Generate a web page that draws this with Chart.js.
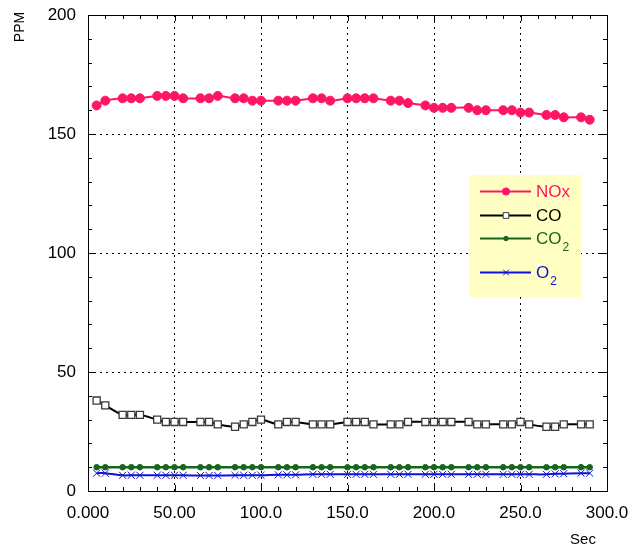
<!DOCTYPE html>
<html>
<head>
<meta charset="utf-8">
<title>PPM vs Sec</title>
<script src="https://cdn.jsdelivr.net/npm/chart.js@4/dist/chart.umd.min.js"></script>
<style>
    html, body { margin: 0; padding: 0; background: #fff; }
    #wrap { position: relative; width: 641px; height: 546px; }
</style>
</head>
<body>
<div id="wrap"><canvas id="chart" width="641" height="546"></canvas></div>
<script>
// Sample times (Sec)
const times = [5, 10, 20, 25, 30, 40, 45, 50, 55, 65, 70, 75, 85, 90, 95, 100, 110, 115, 120,
    130, 135, 140, 150, 155, 160, 165, 175, 180, 185, 195, 200, 205, 210, 220, 225, 230,
    240, 245, 250, 255, 265, 270, 275, 285, 290];

// Series values (PPM)
const noxValues = [162, 164, 165, 165, 165, 166, 166, 166, 165, 165, 165, 166, 165, 165, 164, 164, 164, 164, 164,
    165, 165, 164, 165, 165, 165, 165, 164, 164, 163, 162, 161, 161, 161, 161, 160, 160,
    160, 160, 159, 159, 158, 158, 157, 157, 156];
const coValues = [38, 36, 32, 32, 32, 30, 29, 29, 29, 29, 29, 28, 27, 28, 29, 30, 28, 29, 29,
    28, 28, 28, 29, 29, 29, 28, 28, 28, 29, 29, 29, 29, 29, 29, 28, 28,
    28, 28, 29, 28, 27, 27, 28, 28, 28];
const co2Values = [10, 10, 10, 10, 10, 10, 10, 10, 10, 10, 10, 10, 10, 10, 10, 10, 10, 10, 10,
    10, 10, 10, 10, 10, 10, 10, 10, 10, 10, 10, 10, 10, 10, 10, 10, 10,
    10, 10, 10, 10, 10, 10, 10, 10, 10];
const o2Values = [7.5, 7.5, 6.6, 6.6, 6.6, 6.6, 6.6, 6.6, 6.6, 6.5, 6.5, 6.5, 6.6, 6.6, 6.6, 6.6, 6.8, 6.8, 6.8,
    7, 7, 7, 7, 7, 7, 7, 7, 7, 7, 7, 7, 7, 7, 7, 7, 7,
    7, 7, 7, 7, 7, 7.2, 7.3, 7.5, 7.5];

// Legend labels: [main text, subscript]
const seriesLabels = [['NOx', ''], ['CO', ''], ['CO', '2'], ['O', '2']];

// Axis ticks
const xTicks = [0, 50, 100, 150, 200, 250, 300];
const yTicks = [0, 50, 100, 150, 200];

const FONT = '"Liberation Sans", Arial, sans-serif';

function series(values) {
    return times.map(function (t, i) { return { x: t, y: values[i] }; });
}

function makeDataset(idx, values, color, style) {
    return Object.assign({
        label: seriesLabels[idx].join(''),
        data: series(values),
        borderColor: color,
        backgroundColor: color,
        pointBorderColor: color,
        borderWidth: 2,
        tension: 0.35,
        pointBorderWidth: 1,
        pointHoverRadius: 0
    }, style);
}

// Frame, minor ticks, axis titles, legend
const decorPlugin = {
    id: 'decor',
    afterDraw: function (chart) {
        const ctx = chart.ctx;
        const a = chart.chartArea;
        const xs = chart.scales.x;
        const ys = chart.scales.y;
        ctx.save();

        // frame
        ctx.strokeStyle = '#000';
        ctx.lineWidth = 1;
        ctx.strokeRect(Math.round(a.left) + 0.5, Math.round(a.top) + 0.5,
            Math.round(a.right - a.left), Math.round(a.bottom - a.top));

        // x ticks (top + bottom)
        ctx.beginPath();
        for (let v = 0; v <= 300; v += 10) {
            const px = Math.round(xs.getPixelForValue(v)) + 0.5;
            const len = v % 50 === 0 ? 6 : 4;
            ctx.moveTo(px, a.bottom); ctx.lineTo(px, a.bottom - len);
            ctx.moveTo(px, a.top); ctx.lineTo(px, a.top + len);
        }
        // y ticks (left + right)
        for (let v = 0; v <= 200; v += 10) {
            const py = Math.round(ys.getPixelForValue(v)) + 0.5;
            const len = v % 50 === 0 ? 7 : 4;
            ctx.moveTo(a.left, py); ctx.lineTo(a.left + len, py);
            ctx.moveTo(a.right, py); ctx.lineTo(a.right - len, py);
        }
        ctx.stroke();

        // axis titles
        ctx.fillStyle = '#000';
        ctx.font = '15px ' + FONT;
        ctx.textAlign = 'center';
        ctx.textBaseline = 'middle';
        ctx.fillText('Sec', 583, 540);
        ctx.save();
        ctx.translate(20, 27);
        ctx.rotate(-Math.PI / 2);
        ctx.font = '14px ' + FONT;
        ctx.fillText('PPM', 0, 0);
        ctx.restore();

        // legend box
        const bx = 469, by = 175;
        ctx.fillStyle = '#ffffc4';
        ctx.fillRect(bx, by, 112, 122);
        let rowY = by + 16;
        chart.data.datasets.forEach(function (ds, i) {
            const y = Math.round(rowY) + 0.5;
            ctx.strokeStyle = ds.borderColor;
            ctx.lineWidth = 2;
            ctx.beginPath();
            ctx.moveTo(bx + 11, y);
            ctx.lineTo(bx + 62, y);
            ctx.stroke();
            ctx.fillStyle = ds.pointBackgroundColor || ds.backgroundColor;
            ctx.strokeStyle = ds.pointBorderColor;
            ctx.lineWidth = 1;
            Chart.helpers.drawPoint(ctx, {
                pointStyle: ds.pointStyle,
                radius: ds.pointRadius * 0.8,
                rotation: 0,
                borderWidth: 1
            }, bx + 37, y);

            ctx.fillStyle = ds.borderColor;
            ctx.font = '17px ' + FONT;
            ctx.textAlign = 'left';
            ctx.textBaseline = 'middle';
            const lbl = seriesLabels[i];
            ctx.fillText(lbl[0], bx + 67, y + 1);
            if (lbl[1]) {
                const w = ctx.measureText(lbl[0]).width;
                ctx.font = '12px ' + FONT;
                ctx.fillText(lbl[1], bx + 67 + w + 1, y + 9);
                rowY += 10;
            }
            rowY += 23.5;
        });

        ctx.restore();
    }
};

const gridStyle = {
    color: '#000',
    lineWidth: 1,
    drawTicks: false
};

new Chart(document.getElementById('chart'), {
    type: 'line',
    data: {
        datasets: [
            makeDataset(0, noxValues, '#ff1565', { pointStyle: 'circle', pointRadius: 4.5 }),
            makeDataset(1, coValues, '#000000', { pointStyle: 'rect', pointRadius: 5, pointBackgroundColor: '#fff', pointBorderColor: '#3a3a3a', pointBorderWidth: 1.3 }),
            makeDataset(2, co2Values, '#17661d', { pointStyle: 'circle', pointRadius: 2.8, borderWidth: 2.5 }),
            makeDataset(3, o2Values, '#1010d8', { pointStyle: 'crossRot', pointRadius: 5, pointBackgroundColor: '#1010d8' })
        ]
    },
    options: {
        responsive: false,
        animation: false,
        layout: { padding: { left: 0, top: 0, right: 34, bottom: 0 } },
        plugins: {
            legend: { display: false },
            tooltip: { enabled: false }
        },
        scales: {
            x: {
                type: 'linear',
                min: 0,
                max: 300,
                afterBuildTicks: function (scale) {
                    scale.ticks = xTicks.map(function (v) { return { value: v }; });
                },
                afterFit: function (scale) { scale.height = 55; },
                ticks: {
                    color: '#000',
                    padding: 12,
                    maxRotation: 0,
                    font: { family: FONT, size: 17 },
                    callback: function (v) { return Number(v).toPrecision(4); }
                },
                grid: Object.assign({ tickBorderDash: [], borderDash: [2, 4] }, gridStyle),
                border: { display: false, dash: [2, 4] }
            },
            y: {
                min: 0,
                max: 200,
                afterBuildTicks: function (scale) {
                    scale.ticks = yTicks.map(function (v) { return { value: v }; });
                },
                afterFit: function (scale) {
                    scale.width = 88;
                    scale.paddingTop = 15;
                    scale.paddingBottom = 0;
                },
                ticks: {
                    color: '#000',
                    padding: 12,
                    font: { family: FONT, size: 17 }
                },
                grid: gridStyle,
                border: { display: false, dash: [2, 4] }
            }
        }
    },
    plugins: [decorPlugin]
});
</script>
</body>
</html>
